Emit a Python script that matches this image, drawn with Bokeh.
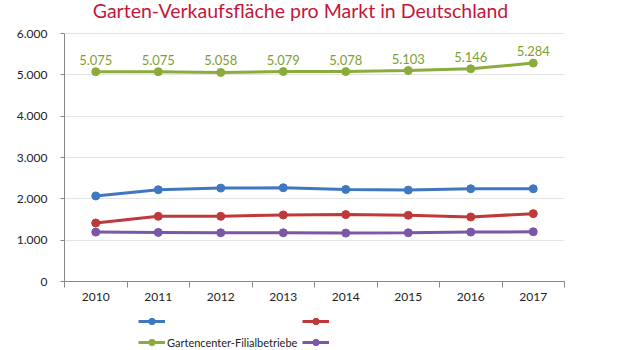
from bokeh.plotting import figure
from bokeh.layouts import column
from bokeh.models import (Range1d, FixedTicker, Legend, LegendItem, Label,
                          ColumnDataSource)
from bokeh.core.properties import value
from bokeh.embed import file_html
from bokeh.resources import INLINE

title = "Garten-Verkaufsfläche pro Markt in Deutschland"
years = [2010, 2011, 2012, 2013, 2014, 2015, 2016, 2017]
series_blue = [2070, 2220, 2260, 2268, 2228, 2211, 2244, 2244]
series_red = [1415, 1577, 1577, 1610, 1618, 1602, 1561, 1642]
series_green = [5075, 5075, 5058, 5079, 5078, 5103, 5146, 5284]
series_purple = [1195, 1187, 1179, 1179, 1171, 1179, 1195, 1203]
green_labels = ["5.075", "5.075", "5.058", "5.079", "5.078", "5.103", "5.146", "5.284"]
y_ticks = [0, 1000, 2000, 3000, 4000, 5000, 6000]
y_tick_labels = ["0", "1.000", "2.000", "3.000", "4.000", "5.000", "6.000"]
legend_labels = [" ", " ", "Gartencenter-Filialbetriebe", " "]

FONT = "Lato"
C_BLUE = "#3f78c1"
C_RED = "#c0393a"
C_GREEN = "#8aac3c"
C_PURPLE = "#7b57a6"
keys = ["blue", "red", "green", "purple"]
colors = [C_BLUE, C_RED, C_GREEN, C_PURPLE]

Y_MAX = 6000 * 281 / 248  # frame top is the canvas top; 6000 lands at pixel 33

p = figure(width=620, height=313, output_backend="svg", toolbar_location=None,
           x_range=Range1d(years[0] - 0.5, years[-1] + 0.5),
           y_range=Range1d(0, Y_MAX),
           min_border_left=64, min_border_right=56, min_border_top=0,
           min_border_bottom=32)
p.outline_line_color = None
p.background_fill_color = "white"
p.border_fill_color = "white"

# axes
p.xaxis.ticker = FixedTicker(ticks=years, minor_ticks=[y + 0.5 for y in [years[0] - 1] + years])
p.xaxis.major_tick_out = 0
p.xaxis.major_tick_in = 0
p.xaxis.minor_tick_out = 6
p.xaxis.minor_tick_in = 0
p.xaxis.minor_tick_line_color = "#888888"
p.xaxis.axis_line_color = "#888888"
p.xaxis.major_label_standoff = 5
p.xaxis.major_label_text_font = FONT
p.xaxis.major_label_text_font_size = "12px"
p.xaxis.major_label_text_color = "#222222"

p.yaxis.ticker = FixedTicker(ticks=y_ticks)
p.yaxis.bounds = (0, 6000)
p.yaxis.major_label_overrides = {t: l for t, l in zip(y_ticks, y_tick_labels)}
p.yaxis.major_tick_out = 4
p.yaxis.major_tick_in = 0
p.yaxis.minor_tick_line_color = None
p.yaxis.major_tick_line_color = "#888888"
p.yaxis.axis_line_color = "#888888"
p.yaxis.major_label_standoff = 13
p.yaxis.major_label_text_font = FONT
p.yaxis.major_label_text_font_size = "12px"
p.yaxis.major_label_text_color = "#222222"

p.xgrid.grid_line_color = None
p.ygrid.ticker = FixedTicker(ticks=y_ticks[1:])
p.ygrid.grid_line_color = "#e4e4e4"
p.ygrid.grid_line_width = 1

src = ColumnDataSource(dict(x=years, blue=series_blue, red=series_red,
                            green=series_green, purple=series_purple,
                            glab=green_labels))

for key, col in zip(keys, colors):
    p.line("x", key, source=src, line_color=col, line_width=3)
    p.scatter("x", key, source=src, size=8, fill_color=col, line_color=col)

p.text("x", "green", text="glab", source=src, text_color="#7f9e34",
       text_font=value(FONT), text_font_size="13px",
       text_align="center", text_baseline="bottom", y_offset=-7)

# title
p.add_layout(Label(x=(years[0] + years[-1]) / 2, y=6000, x_offset=-14, y_offset=23,
                   text=title, text_align="center", text_baseline="middle",
                   text_color="#c4163a", text_font=FONT, text_font_size="19.5px"))

# legend strip (its glyphs hold one point each, placed outside the strip's range)
lf = figure(width=620, height=37, output_backend="svg", toolbar_location=None,
            x_range=Range1d(0, 1), y_range=Range1d(0, 1),
            min_border_left=0, min_border_right=0, min_border_top=0,
            min_border_bottom=0)
lf.axis.visible = False
lf.grid.visible = False
lf.outline_line_color = None
lf.border_fill_color = "white"
items = []
for key, col, lab in zip(keys, colors, legend_labels):
    lsrc = ColumnDataSource(dict(x=[-5], y=[-5]))
    l = lf.line("x", "y", source=lsrc, line_color=col, line_width=3)
    s = lf.scatter("x", "y", source=lsrc, size=8, fill_color=col, line_color=col)
    items.append(LegendItem(label=lab, renderers=[l, s]))

lg = Legend(items=items, orientation="horizontal", ncols=2,
            location=(74, 0), label_width=122, glyph_width=27,
            glyph_height=16, label_text_font=FONT, label_text_font_size="11px",
            label_text_color="#222222", border_line_color=None,
            background_fill_alpha=0, padding=0, spacing=5, margin=0,
            label_standoff=2, label_height=16)
lf.add_layout(lg)

layout = column(p, lf, spacing=0)
open("out.html", "w").write(file_html(layout, INLINE))
